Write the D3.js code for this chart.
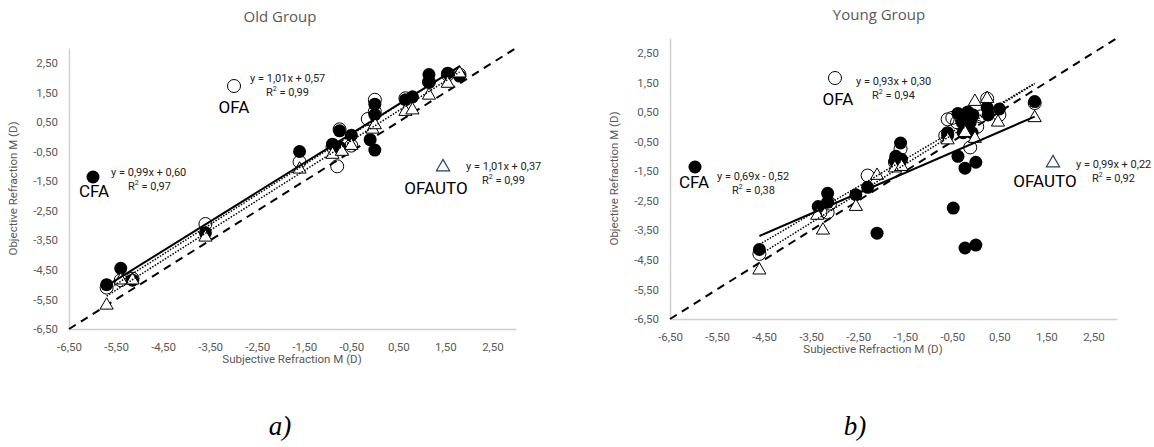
<!DOCTYPE html>
<html><head><meta charset="utf-8">
<script src="https://cdn.jsdelivr.net/npm/d3@7"></script>
<style>
body{margin:0;background:#fff;}
svg text{font-family:Roboto,"Liberation Sans",sans-serif;}
</style></head>
<body><svg id="c" width="1154" height="447"></svg>
<script>
// ---------- data ----------
const tickValues = [-6.5,-5.5,-4.5,-3.5,-2.5,-1.5,-0.5,0.5,1.5,2.5];
const domain = [-6.5, 3.0];

// Old group
const oldCfaX = [-5.7,-5.4,-5.15,-3.6,-1.6,-0.9,-0.75,-0.75,-0.5,-0.1,0.0,0.0,0.0,0.65,0.8,1.15,1.15,1.55,1.8];
const oldCfaY = [-5.0,-4.45,-4.85,-3.25,-0.5,-0.25,0.2,-0.35,0.05,-0.1,1.1,0.75,-0.45,1.25,1.35,2.1,1.85,2.15,2.05];
const oldOfaX = [-5.7,-5.4,-5.15,-3.6,-1.6,-0.8,-0.75,-0.9,-0.5,-0.15,0.0,0.0,0.65,1.15,1.55,1.8];
const oldOfaY = [-5.1,-4.85,-4.8,-2.95,-0.85,-1.0,0.25,-0.35,-0.3,0.6,1.25,0.85,1.3,1.85,2.1,2.1];
const oldAutoX = [-5.7,-5.4,-5.15,-3.6,-1.6,-0.9,-0.7,-0.5,-0.05,0.0,0.65,0.8,1.15,1.55,1.8];
const oldAutoY = [-5.7,-4.85,-4.85,-3.4,-1.1,-0.6,-0.5,-0.3,0.25,0.4,0.85,0.9,1.4,1.8,2.15];

// Young group
const youngCfaX = [-4.6,-3.35,-3.15,-3.15,-2.55,-2.3,-2.1,-1.7,-1.6,-1.72,-1.58,-0.6,-0.6,-0.38,-0.23,0.0,-0.48,-0.23,0.0,-0.38,-0.29,-0.17,-0.12,-0.27,-0.08,0.24,0.26,0.5,1.25,-0.06];
const youngCfaY = [-4.15,-2.7,-2.25,-2.55,-2.3,-2.05,-3.6,-1.0,-0.55,-1.15,-1.1,-0.2,-0.3,-1.0,-1.4,-1.2,-2.75,-4.1,-4.0,0.45,0.15,0.5,0.15,-0.2,-0.2,0.65,0.4,0.6,0.85,0.4];
const youngOfaX = [-4.6,-3.3,-3.15,-3.1,-2.3,-1.6,-1.72,-0.6,-0.65,-0.4,0.03,-0.12,0.24,0.5,1.25,-0.5,-0.3,0.1,-0.2];
const youngOfaY = [-4.3,-2.9,-2.9,-2.6,-1.65,-0.75,-1.2,0.25,-0.3,0.15,0.0,-0.7,0.95,0.4,0.8,0.3,0.25,0.35,-0.05];
const youngAutoX = [-4.6,-3.25,-3.37,-2.55,-2.1,-1.72,-1.58,-0.6,-0.23,-0.02,-0.02,0.24,0.47,1.25];
const youngAutoY = [-4.85,-3.5,-3.0,-2.7,-1.65,-1.4,-1.35,-0.45,-0.2,-0.4,0.85,0.95,0.15,0.3];

// trendline coefficients (as printed) [slope, intercept]
const oldFits = {cfa:[0.99,0.60], ofa:[1.01,0.57], auto:[1.01,0.37]};
const youngFits = {cfa:[0.69,-0.52], ofa:[0.93,0.30], auto:[0.99,0.22]};
const oldLabels = {cfa:["y = 0,99x + 0,60","0,97"], ofa:["y = 1,01x + 0,57","0,99"], auto:["y = 1,01x + 0,37","0,99"]};
const youngLabels = {cfa:["y = 0,69x - 0,52","0,38"], ofa:["y = 0,93x + 0,30","0,94"], auto:["y = 0,99x + 0,22","0,92"]};

const svg = d3.select("#c");
const fmt = v => d3.format(".2f")(v).replace(".", ",").replace("−","-");
const zip = (xs, ys) => xs.map((x,i)=>({x, y:ys[i]}));
const triPath = d3.symbol().type(d3.symbolTriangle).size(75);

function panel(cfg){
  const {left, top, w, h, title, titleX, xLabelX, series, fits, labels, ann, letter, letterX} = cfg;
  const x = d3.scaleLinear().domain(domain).range([left, left+w]);
  const y = d3.scaleLinear().domain(domain).range([top+h, top]);
  const g = svg.append("g");

  // title
  g.append("text").attr("x", titleX).attr("y", top - (cfg.titleOff)).attr("text-anchor","middle")
    .style("font-family","'Open Sans',sans-serif").attr("font-size",15).attr("fill","#595959").text(title);

  // axes
  const xa = g.append("g").attr("transform",`translate(0,${top+h})`)
    .call(d3.axisBottom(x).tickValues(tickValues).tickSize(0).tickPadding(14).tickFormat(fmt));
  const ya = g.append("g").attr("transform",`translate(${left},0)`)
    .call(d3.axisLeft(y).tickValues(tickValues).tickSize(0).tickPadding(11).tickFormat(fmt));
  [xa, ya].forEach(a=>{
    a.select(".domain").attr("stroke","#d0d0d0").attr("stroke-width",1.5);
    a.selectAll("text").attr("fill","#595959").attr("font-size",11.5).style("font-family","Roboto,sans-serif");
  });

  // axis titles
  g.append("text").attr("x", xLabelX).attr("y", top+h+34).attr("text-anchor","middle")
    .attr("font-size",11.5).attr("fill","#595959").text("Subjective Refraction M (D)");
  g.append("text").attr("transform",`translate(${left-52},${top+h/2}) rotate(-90)`).attr("text-anchor","middle")
    .attr("font-size",11.5).attr("fill","#595959").text("Objective Refraction M (D)");

  // identity line
  g.append("line").attr("x1",x(domain[0])).attr("y1",y(domain[0])).attr("x2",x(domain[1])).attr("y2",y(domain[1]))
    .attr("stroke","#000").attr("stroke-width",2).attr("stroke-dasharray","8,6");

  // markers: OFA (open), CFA (filled), OFAUTO (triangles)
  g.append("g").selectAll("circle").data(series.ofa).join("circle")
    .attr("cx",d=>x(d.x)).attr("cy",d=>y(d.y)).attr("r",6.5)
    .attr("fill","none").attr("stroke","#000").attr("stroke-width",1);
  g.append("g").selectAll("circle").data(series.cfa).join("circle")
    .attr("cx",d=>x(d.x)).attr("cy",d=>y(d.y)).attr("r",6.5).attr("fill","#000");
  g.append("g").selectAll("path").data(series.auto).join("path")
    .attr("d",triPath).attr("transform",d=>`translate(${x(d.x)},${y(d.y)})`)
    .attr("fill","#fff").attr("stroke","#000").attr("stroke-width",1);

  // trendlines
  const tl = (key, dash, width) => {
    const xs = series[key].map(d=>d.x);
    const [m,b] = fits[key];
    const x0 = d3.min(xs), x1 = d3.max(xs);
    g.append("line").attr("x1",x(x0)).attr("y1",y(m*x0+b)).attr("x2",x(x1)).attr("y2",y(m*x1+b))
      .attr("stroke","#000").attr("stroke-width",width).attr("stroke-dasharray",dash);
  };
  tl("ofa","1.5,1.5",1.5);
  tl("auto","1.5,1.5",1.5);
  tl("cfa",null,2);

  // annotations (legend-like)
  const addEq = (a, lab) => {
    const t = g.append("text").attr("x",a.eqX).attr("y",a.eqY).attr("font-size",11).attr("fill","#222").text(lab[0]);
    const r = g.append("text").attr("x",a.r2X).attr("y",a.eqY+14).attr("font-size",11).attr("fill","#222");
    r.append("tspan").text("R");
    r.append("tspan").attr("font-size",7).attr("dy",-5).text("2");
    r.append("tspan").attr("dy",5).text(" = " + lab[1]);
  };
  const bigLab = (txt, cx, by) => g.append("text").attr("x",cx).attr("y",by).attr("text-anchor","middle")
    .style("font-family","'Liberation Sans Narrow','Roboto',sans-serif").attr("font-size",17).attr("fill","#000").text(txt);

  g.append("circle").attr("cx",ann.cfa.mx).attr("cy",ann.cfa.my).attr("r",6.5).attr("fill","#000");
  bigLab("CFA", ann.cfa.lx, ann.cfa.ly);
  addEq(ann.cfa, labels.cfa);

  g.append("circle").attr("cx",ann.ofa.mx).attr("cy",ann.ofa.my).attr("r",6.5).attr("fill","none").attr("stroke","#000").attr("stroke-width",1);
  bigLab("OFA", ann.ofa.lx, ann.ofa.ly);
  addEq(ann.ofa, labels.ofa);

  g.append("path").attr("d",triPath).attr("transform",`translate(${ann.auto.mx},${ann.auto.my})`)
    .attr("fill","#fff").attr("stroke","#23405e").attr("stroke-width",1.2);
  bigLab("OFAUTO", ann.auto.lx, ann.auto.ly);
  addEq(ann.auto, labels.auto);

  // panel letter
  svg.append("text").attr("x",letterX).attr("y",435).attr("text-anchor","middle")
    .style("font-family","'Liberation Serif','Times New Roman',serif").attr("font-style","italic")
    .attr("font-size",27).attr("fill","#000").text(letter);
}

panel({
  left:69, top:48, w:447, h:281, title:"Old Group", titleX:280, titleOff:26, xLabelX:292,
  series:{cfa:zip(oldCfaX,oldCfaY), ofa:zip(oldOfaX,oldOfaY), auto:zip(oldAutoX,oldAutoY)},
  fits:oldFits, labels:oldLabels, letter:"a)", letterX:280,
  ann:{
    cfa:{mx:93,my:177,lx:94,ly:197,eqX:111,eqY:176,r2X:128},
    ofa:{mx:234,my:86,lx:234,ly:113,eqX:250,eqY:82,r2X:266},
    auto:{mx:443,my:167,lx:436,ly:194,eqX:466,eqY:170,r2X:482}
  }
});
panel({
  left:670, top:38, w:447, h:281, title:"Young Group", titleX:879, titleOff:18, xLabelX:873,
  series:{cfa:zip(youngCfaX,youngCfaY), ofa:zip(youngOfaX,youngOfaY), auto:zip(youngAutoX,youngAutoY)},
  fits:youngFits, labels:youngLabels, letter:"b)", letterX:855,
  ann:{
    cfa:{mx:695,my:167,lx:694,ly:188,eqX:717,eqY:180,r2X:732},
    ofa:{mx:835,my:78,lx:838,ly:105,eqX:856,eqY:85,r2X:872},
    auto:{mx:1053,my:163,lx:1045,ly:187,eqX:1076,eqY:168,r2X:1092}
  }
});
</script></body></html>
